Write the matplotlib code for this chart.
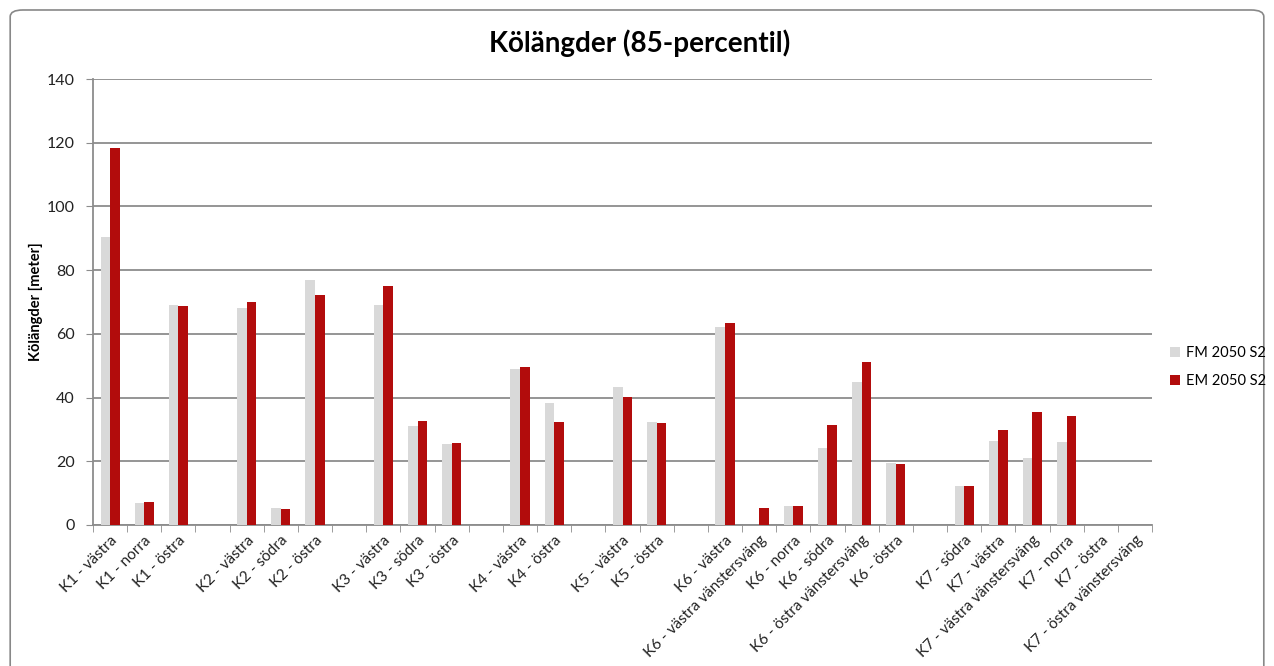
import matplotlib.pyplot as plt
import numpy as np
from matplotlib.patches import FancyBboxPatch

categories = [
    "K1 - västra", "K1 - norra", "K1 - östra", "",
    "K2 - västra", "K2 - södra", "K2 - östra", "",
    "K3 - västra", "K3 - södra", "K3 - östra", "",
    "K4 - västra", "K4 - östra", "",
    "K5 - västra", "K5 - östra", "",
    "K6 - västra", "K6 - västra vänstersväng", "K6 - norra", "K6 - södra",
    "K6 - östra vänstersväng", "K6 - östra", "",
    "K7 - södra", "K7 - västra", "K7 - västra vänstersväng", "K7 - norra",
    "K7 - östra", "K7 - östra vänstersväng",
]
fm_2050 = [
    90.5, 6.8, 69.0, 0,
    68.2, 5.2, 77.0, 0,
    69.2, 31.2, 25.5, 0,
    49.0, 38.2, 0,
    43.3, 32.2, 0,
    62.0, 0, 6.1, 24.3, 45.0, 19.5, 0,
    12.2, 26.5, 21.0, 26.0, 0, 0,
]
em_2050 = [
    118.3, 7.3, 68.8, 0,
    70.0, 5.1, 72.2, 0,
    75.0, 32.8, 25.7, 0,
    49.5, 32.3, 0,
    40.2, 32.0, 0,
    63.5, 5.3, 6.1, 31.3, 51.2, 19.0, 0,
    12.2, 29.7, 35.5, 34.3, 0, 0,
]
series_names = ["FM 2050 S2", "EM 2050 S2"]

plt.rcParams["font.family"] = ["Lato", "DejaVu Sans"]

fig = plt.figure(figsize=(12.74, 6.66), dpi=100)
fig.patches.append(FancyBboxPatch((0.008, -0.05), 0.984, 1.035, boxstyle="round,pad=0,rounding_size=0.01",
                                  transform=fig.transFigure, fill=False, edgecolor="#888888", linewidth=1.2))
ax = fig.add_axes([93 / 1274, 1 - 525 / 666, (1152 - 93) / 1274, (525 - 79) / 666])

x = np.arange(len(categories))
w = 0.28
ax.bar(x - w / 2, fm_2050, w, color="#d9d9d9", label=series_names[0], zorder=3)
ax.bar(x + w / 2, em_2050, w, color="#b20c0c", label=series_names[1], zorder=3)

ax.set_xlim(-0.5, len(categories) - 0.5)
ax.set_ylim(0, 140)
ax.set_yticks(range(0, 141, 20))
ax.yaxis.grid(True, color="#8c8c8c", linewidth=1.3, zorder=0)
ax.set_axisbelow(True)

ax.set_xticks(x)
ax.set_xticklabels(categories, rotation=45, ha="right", rotation_mode="anchor", fontsize=11, color="#222222")
ax.tick_params(axis="x", length=0, pad=6)
ax.set_xticks(np.arange(-0.5, len(categories), 1), minor=True)
ax.tick_params(axis="x", which="minor", length=5, color="#8c8c8c", direction="out")
ax.tick_params(axis="y", length=5, color="#8c8c8c", labelsize=11.5, labelcolor="#222222", pad=8)

for side in ["top", "right"]:
    ax.spines[side].set_visible(False)
for side in ["left", "bottom"]:
    ax.spines[side].set_color("#8c8c8c")
    ax.spines[side].set_linewidth(1.3)

ax.set_ylabel("Kölängder [meter]", fontsize=10.5, fontweight="bold")
ax.yaxis.set_label_coords(-0.047, 0.5)
fig.text(0.502, 0.935, "Kölängder (85-percentil)", ha="center", va="center", fontsize=20, fontweight="bold")

leg = fig.legend(loc="center left", bbox_to_anchor=(1170 / 1274, 1 - 367 / 666), frameon=False,
                 fontsize=10.5, handlelength=0.7, handleheight=0.7, handletextpad=0.4, labelspacing=1.0,
                 borderaxespad=0, borderpad=0)

fig.savefig("out.png", dpi=100)
